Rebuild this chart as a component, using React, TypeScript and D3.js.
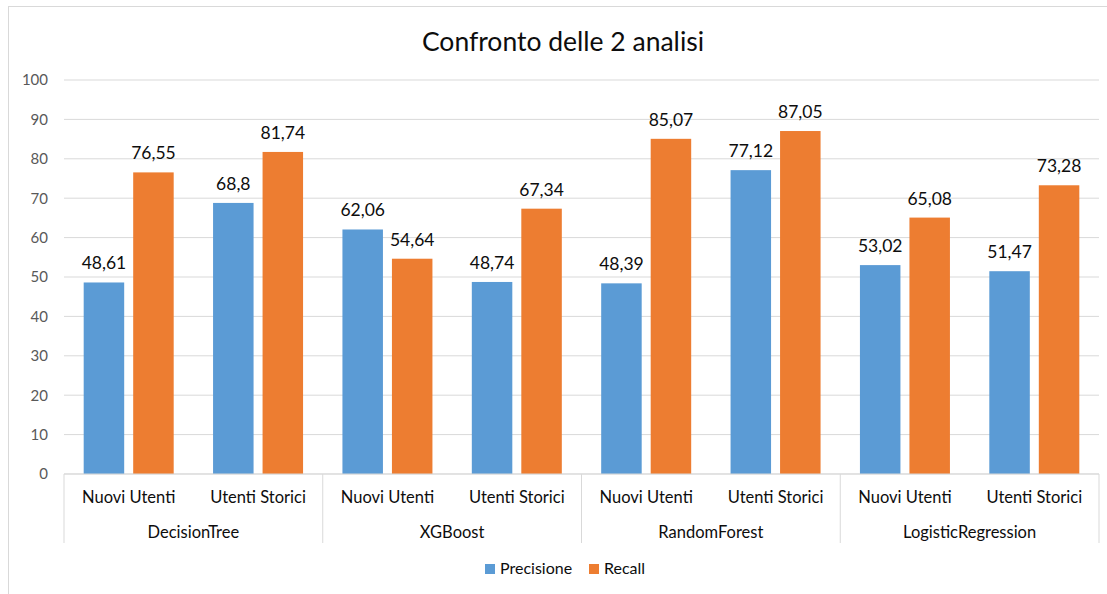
import React from "react";
import * as d3 from "d3";

const models = ["DecisionTree", "XGBoost", "RandomForest", "LogisticRegression"];
const userGroups = ["Nuovi Utenti", "Utenti Storici"];
const seriesNames = ["Precisione", "Recall"];
const seriesColors = ["#5B9BD5", "#ED7D31"];
// values per model, in order [Nuovi Utenti, Utenti Storici]
const precisione = [48.61, 68.8, 62.06, 48.74, 48.39, 77.12, 53.02, 51.47];
const recall = [76.55, 81.74, 54.64, 67.34, 85.07, 87.05, 65.08, 73.28];
const yTicks = [0, 10, 20, 30, 40, 50, 60, 70, 80, 90, 100];

const W = 1107;
const H = 594;
const FONT = "Lato, 'Open Sans', sans-serif";

export default function App() {
  const left = 64;
  const right = 1099;
  const top = 80;
  const bottom = 474;

  const y = d3.scaleLinear().domain([0, 100]).range([bottom, top]);
  const cats = models.flatMap((m) => userGroups.map((g) => `${m}|${g}`));
  const x = d3.scaleBand().domain(cats).range([left, right]).paddingInner(0).paddingOuter(0);
  const groupX = d3.scaleBand().domain(models).range([left, right]);

  const barW = 40.5;
  const gap = 9;
  const series = [precisione, recall];
  const fmt = (v: number) => String(v).replace(".", ",");

  return (
    <svg
      width={W}
      height={H}
      style={{ position: "absolute", left: 0, top: 0, background: "#fff" }}
      fontFamily={FONT}
    >
      <rect x={8.5} y={6.5} width={W + 20} height={H + 20} fill="#fff" stroke="#D9D9D9" strokeWidth={1} />

      <text x={563} y={51} textAnchor="middle" fontSize={26.5} fill="#0d0d0d">
        Confronto delle 2 analisi
      </text>

      {yTicks.map((t) => (
        <g key={t}>
          <line x1={left} x2={right} y1={y(t)} y2={y(t)} stroke="#D9D9D9" strokeWidth={1} />
          <text x={48} y={y(t)} dy="0.36em" textAnchor="end" fontSize={15} fill="#595959">
            {t}
          </text>
        </g>
      ))}

      {series.map((vals, si) =>
        vals.map((v, i) => {
          const cx = (x(cats[i]) as number) + x.bandwidth() / 2;
          const bx = si === 0 ? cx - gap / 2 - barW : cx + gap / 2;
          return (
            <g key={`${si}-${i}`}>
              <rect x={bx} y={y(v)} width={barW} height={y(0) - y(v)} fill={seriesColors[si]} />
              <text
                x={bx + barW / 2}
                y={y(v) - 13}
                textAnchor="middle"
                fontSize={17.5}
                fill="#0d0d0d"
              >
                {fmt(v)}
              </text>
            </g>
          );
        })
      )}

      {/* category axis */}
      <line x1={left} x2={right} y1={bottom} y2={bottom} stroke="#D9D9D9" strokeWidth={1} />
      {d3.range(models.length + 1).map((k) => {
        const xx = k < models.length ? (groupX(models[k]) as number) : right;
        return <line key={k} x1={xx} x2={xx} y1={bottom} y2={543} stroke="#D9D9D9" strokeWidth={1} />;
      })}
      {cats.map((c) => (
        <text
          key={c}
          x={(x(c) as number) + x.bandwidth() / 2}
          y={503}
          textAnchor="middle"
          fontSize={16.5}
          fill="#0d0d0d"
        >
          {c.split("|")[1]}
        </text>
      ))}
      {models.map((m) => (
        <text
          key={m}
          x={(groupX(m) as number) + groupX.bandwidth() / 2}
          y={537.5}
          textAnchor="middle"
          fontSize={16.5}
          fill="#0d0d0d"
        >
          {m}
        </text>
      ))}

      {/* legend */}
      {seriesNames.map((s, i) => {
        const lx = i === 0 ? 485 : 589;
        return (
          <g key={s}>
            <rect x={lx} y={564} width={10} height={10} fill={seriesColors[i]} />
            <text x={lx + 15} y={574} fontSize={16} fill="#0d0d0d">
              {s}
            </text>
          </g>
        );
      })}
    </svg>
  );
}
